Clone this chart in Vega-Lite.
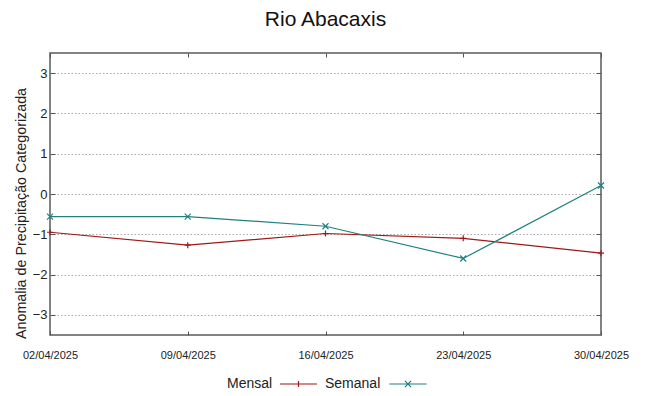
{
  "$schema": "https://vega.github.io/schema/vega-lite/v6.json",
  "width": 551,
  "height": 282,
  "autosize": {"type": "none"},
  "padding": {"left": 50, "top": 53, "right": 47, "bottom": 61},
  "background": "white",
  "title": {
    "text": "Rio Abacaxis",
    "font": "Liberation Sans",
    "fontSize": 21,
    "fontWeight": "normal",
    "color": "#111",
    "anchor": "middle",
    "baseline": "alphabetic",
    "offset": 6
  },
  "data": {
    "values": [
      {"data": "02/04/2025", "serie": "Mensal", "valor": -0.95},
      {"data": "09/04/2025", "serie": "Mensal", "valor": -1.27},
      {"data": "16/04/2025", "serie": "Mensal", "valor": -0.98},
      {"data": "23/04/2025", "serie": "Mensal", "valor": -1.10},
      {"data": "30/04/2025", "serie": "Mensal", "valor": -1.47},
      {"data": "02/04/2025", "serie": "Semanal", "valor": -0.56},
      {"data": "09/04/2025", "serie": "Semanal", "valor": -0.56},
      {"data": "16/04/2025", "serie": "Semanal", "valor": -0.80},
      {"data": "23/04/2025", "serie": "Semanal", "valor": -1.60},
      {"data": "30/04/2025", "serie": "Semanal", "valor": 0.21}
    ]
  },
  "layer": [
    {
      "mark": {"type": "line", "strokeWidth": 1.2},
      "encoding": {
        "x": {
          "field": "data", "type": "ordinal", "sort": null,
          "scale": {"type": "point", "padding": 0},
          "axis": {
            "orient": "bottom", "title": null, "labelAngle": 0,
            "tickSize": -4, "labelPadding": 18, "domain": false
          }
        },
        "y": {
          "field": "valor", "type": "quantitative",
          "scale": {"domain": [-3.5, 3.5], "nice": false, "zero": false},
          "axis": {
            "orient": "left", "values": [-3, -2, -1, 0, 1, 2, 3],
            "title": "Anomalia de Precipitação Categorizada",
            "titleFont": "Liberation Sans", "titleFontSize": 14.3, "titleFontWeight": "normal",
            "titleColor": "#222", "titlePadding": 4, "titleY": 160,
            "labelFont": "Liberation Sans", "labelFontSize": 13, "labelColor": "#222",
            "labelPadding": 8, "tickSize": -5, "grid": true, "domain": false
          }
        },
        "color": {
          "field": "serie", "type": "nominal",
          "scale": {"domain": ["Mensal", "Semanal"], "range": ["#a01818", "#1f8080"]},
          "legend": {
            "title": null, "orient": "none", "direction": "horizontal",
            "legendX": 177, "legendY": 321,
            "labelFont": "Liberation Sans", "labelFontSize": 14, "labelColor": "#222",
            "symbolSize": 342, "symbolStrokeWidth": 1.2, "columnPadding": 5,
            "encode": {
              "symbols": {
                "update": {
                  "shape": {"signal": "datum.value === 'Mensal' ? 'M-2,0H2M0,-0.33V0.33' : 'M-2,0H2M-0.33,-0.33L0.33,0.33M-0.33,0.33L0.33,-0.33'"},
                  "x": {"signal": "datum.value === 'Mensal' ? 71.5 : 83"},
                  "fill": {"value": "transparent"}
                }
              },
              "labels": {
                "update": {
                  "x": {"value": 0},
                  "align": {"value": "left"}
                }
              }
            }
          }
        }
      }
    },
    {
      "transform": [{"filter": "datum.serie === 'Mensal'"}],
      "mark": {"type": "point", "shape": "M-1,0H1M0,-1V1", "filled": false, "size": 36, "strokeWidth": 1.2, "opacity": 1, "color": "#a01818"},
      "encoding": {
        "x": {
          "field": "data", "type": "ordinal", "sort": null,
          "scale": {"type": "point", "padding": 0},
          "axis": {"orient": "top", "title": null, "labels": false, "tickSize": -4, "domain": false}
        },
        "y": {
          "field": "valor", "type": "quantitative",
          "scale": {"domain": [-3.5, 3.5], "nice": false, "zero": false},
          "axis": {"orient": "right", "title": null, "labels": false, "values": [-3, -2, -1, 0, 1, 2, 3], "tickSize": -5, "grid": false, "domain": false}
        }
      }
    },
    {
      "transform": [{"filter": "datum.serie === 'Semanal'"}],
      "mark": {"type": "point", "shape": "M-1,-1L1,1M-1,1L1,-1", "filled": false, "size": 36, "strokeWidth": 1.2, "opacity": 1, "color": "#1f8080"},
      "encoding": {
        "x": {"field": "data", "type": "ordinal", "sort": null, "axis": null},
        "y": {"field": "valor", "type": "quantitative", "axis": null}
      }
    }
  ],
  "resolve": {"axis": {"x": "independent", "y": "independent"}},
  "config": {
    "view": {"stroke": "#5a5a5a", "strokeWidth": 1.5},
    "axis": {
      "tickColor": "#555", "tickWidth": 1,
      "gridColor": "#aaaaaa", "gridDash": [1.5, 2], "gridWidth": 1,
      "labelFont": "Liberation Sans", "labelFontSize": 11, "labelColor": "#222"
    }
  }
}
